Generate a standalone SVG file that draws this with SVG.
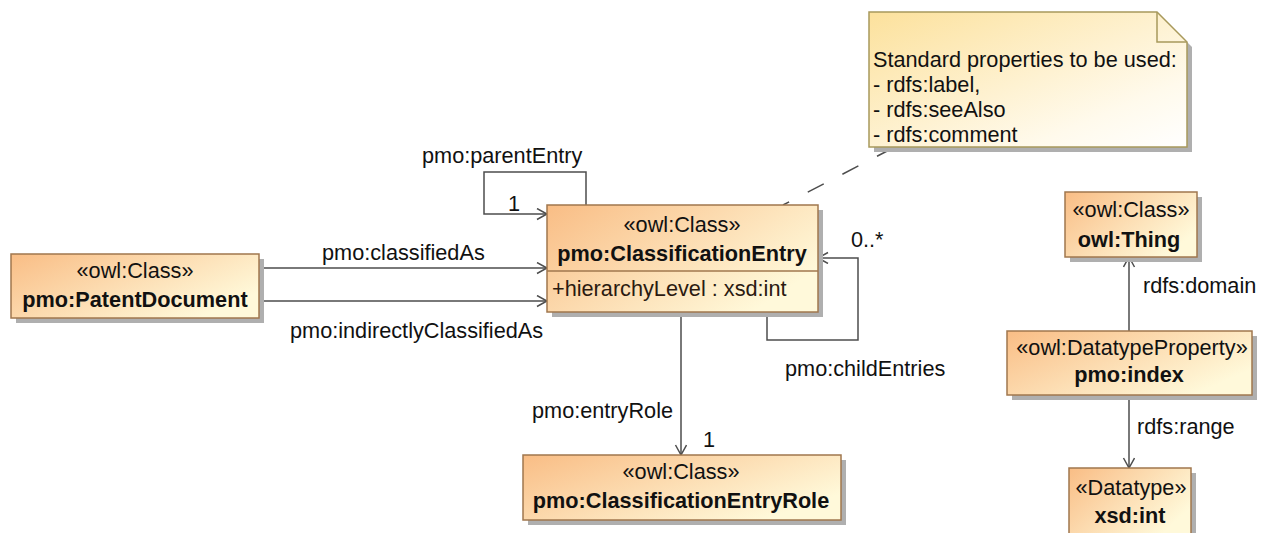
<svg xmlns="http://www.w3.org/2000/svg" width="1263" height="533" viewBox="0 0 1263 533">
<defs>
<linearGradient id="boxg" x1="0" y1="0" x2="1" y2="0.6">
<stop offset="0" stop-color="#F9BD85"/>
<stop offset="1" stop-color="#FFF9DA"/>
</linearGradient>
<linearGradient id="noteg" x1="0" y1="0" x2="1" y2="1">
<stop offset="0" stop-color="#FCE19C"/>
<stop offset="0.75" stop-color="#FFFAEC"/>
<stop offset="1" stop-color="#FFFFFF"/>
</linearGradient>
<marker id="arr" markerUnits="userSpaceOnUse" markerWidth="14" markerHeight="14" refX="11" refY="6" orient="auto" viewBox="0 0 14 14">
<path d="M1,0.5 L11,6 L1,11.5" fill="none" stroke="#4D4D4D" stroke-width="1.5"/>
</marker>
</defs>
<style>
text{font-family:"Liberation Sans",Arial,Helvetica,sans-serif;font-size:21.7px;fill:#111}
.b{font-weight:bold}
.m{text-anchor:middle}
.attr{fill:#2b1a10}
.box{fill:url(#boxg);stroke:#A0774E;stroke-width:1.5}
.sh{fill:#AFAFAF}
.note{fill:url(#noteg);stroke:#A8995C;stroke-width:1.5}
.c{fill:none;stroke:#4D4D4D;stroke-width:1.5}
.ca{fill:none;stroke:#4D4D4D;stroke-width:1.5;marker-end:url(#arr)}
.dash{fill:none;stroke:#4D4D4D;stroke-width:1.5;stroke-dasharray:18 21}
</style>
<rect width="1263" height="533" fill="#FFFFFF"/>

<g id="connectors">
<line class="ca" x1="259" y1="268" x2="547" y2="268"/>
<line class="ca" x1="259" y1="301" x2="547" y2="301"/>
<polyline class="ca" points="586,205 586,172 484,172 484,214 547,214"/>
<polyline class="ca" points="767,312 767,340 858,340 858,258 818,258"/>
<line class="ca" x1="681" y1="312" x2="681" y2="455"/>
<line class="ca" x1="1129" y1="331" x2="1129" y2="257"/>
<line class="ca" x1="1129" y1="395" x2="1129" y2="468"/>
<line class="dash" x1="893" y1="148" x2="783" y2="205"/>
<text x="422" y="163">pmo:parentEntry</text>
<text x="508" y="211">1</text>
<text x="322" y="260">pmo:classifiedAs</text>
<text x="290" y="338">pmo:indirectlyClassifiedAs</text>
<text x="851" y="247">0..*</text>
<text x="785" y="376">pmo:childEntries</text>
<text x="532" y="418">pmo:entryRole</text>
<text x="703" y="447">1</text>
<text x="1143" y="293">rdfs:domain</text>
<text x="1137" y="434">rdfs:range</text>
</g>

<g id="note">
<polygon class="sh" points="874,17 1162,17 1192,47 1192,152 874,152"/>
<polygon class="note" points="869,12 1157,12 1187,42 1187,147 869,147"/>
<polyline fill="none" stroke="#A8995C" stroke-width="1.5" points="1157,12 1157,42 1187,42"/>
<text x="873" y="67">Standard properties to be used:</text>
<text x="873" y="92">- rdfs:label,</text>
<text x="873" y="117">- rdfs:seeAlso</text>
<text x="873" y="142">- rdfs:comment</text>
</g>

<g id="PatentDocument">
<rect class="sh" x="16" y="259" width="248" height="64"/>
<rect class="box" x="11" y="254" width="248" height="64"/>
<text class="m" x="135" y="278">«owl:Class»</text>
<text class="m b" x="135" y="307">pmo:PatentDocument</text>
</g>

<g id="ClassificationEntry">
<rect class="sh" x="552" y="210" width="271" height="107"/>
<rect class="box" x="547" y="205" width="271" height="107"/>
<line x1="547" y1="271" x2="818" y2="271" stroke="#A0774E" stroke-width="1.5"/>
<text class="m" x="682" y="232">«owl:Class»</text>
<text class="m b" x="682" y="261">pmo:ClassificationEntry</text>
<text class="attr" x="552" y="296">+hierarchyLevel : xsd:int</text>
</g>

<g id="ClassificationEntryRole">
<rect class="sh" x="528" y="460" width="318" height="65"/>
<rect class="box" x="523" y="455" width="318" height="65"/>
<text class="m" x="681" y="479">«owl:Class»</text>
<text class="m b" x="681" y="508">pmo:ClassificationEntryRole</text>
</g>

<g id="owlThing">
<rect class="sh" x="1070" y="197" width="132" height="65"/>
<rect class="box" x="1065" y="192" width="132" height="65"/>
<text class="m" x="1131" y="217">«owl:Class»</text>
<text class="m b" x="1129" y="247">owl:Thing</text>
</g>

<g id="pmoIndex">
<rect class="sh" x="1012" y="336" width="245" height="64"/>
<rect class="box" x="1007" y="331" width="245" height="64"/>
<text class="m" x="1132" y="355">«owl:DatatypeProperty»</text>
<text class="m b" x="1129" y="382">pmo:index</text>
</g>

<g id="xsdInt">
<rect class="sh" x="1074" y="473" width="122" height="66"/>
<rect class="box" x="1069" y="468" width="122" height="66"/>
<text class="m" x="1131" y="495">«Datatype»</text>
<text class="m b" x="1130" y="523">xsd:int</text>
</g>
</svg>
